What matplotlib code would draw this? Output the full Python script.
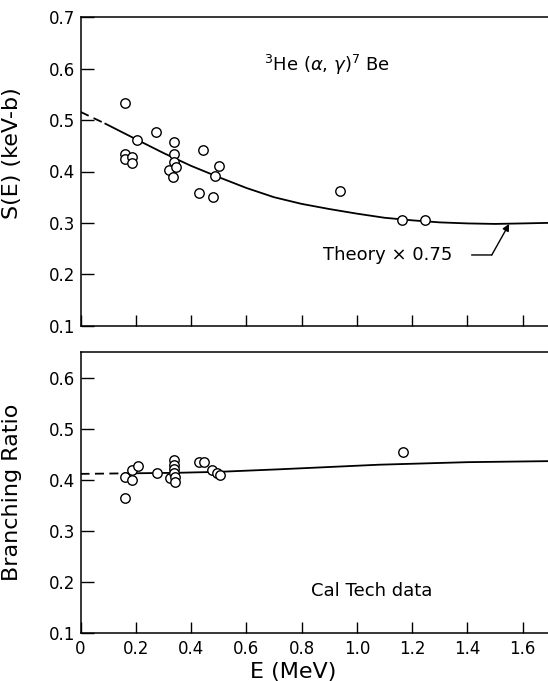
import matplotlib
matplotlib.use('Agg')
import matplotlib.pyplot as plt

# measured S-factor points (MeV, keV-b)
s_E = [0.161, 0.161, 0.161, 0.185, 0.188, 0.206, 0.273, 0.321, 0.336, 0.337, 0.337,
       0.337, 0.344, 0.430, 0.443, 0.478, 0.488, 0.502, 0.939, 1.163, 1.247]
s_S = [0.534, 0.434, 0.424, 0.429, 0.417, 0.461, 0.477, 0.403, 0.389, 0.458, 0.435,
       0.418, 0.408, 0.359, 0.442, 0.350, 0.391, 0.410, 0.363, 0.305, 0.305]

# theory x 0.75 curve (dashed extrapolation + solid part)
th_E_dash = [0.0, 0.09]
th_S_dash = [0.516, 0.493]
th_E = [0.09, 0.20, 0.30, 0.40, 0.50, 0.60, 0.70, 0.80, 0.90, 1.00, 1.10, 1.20,
        1.30, 1.40, 1.50, 1.60, 1.69]
th_S = [0.493, 0.463, 0.436, 0.411, 0.389, 0.368, 0.350, 0.337, 0.327, 0.318, 0.310,
        0.305, 0.301, 0.299, 0.298, 0.299, 0.300]

# branching ratio points
br_E = [0.161, 0.161, 0.187, 0.187, 0.207, 0.276, 0.324, 0.337, 0.337, 0.337, 0.337,
        0.342, 0.342, 0.429, 0.446, 0.475, 0.493, 0.505, 1.166]
br_R = [0.406, 0.365, 0.399, 0.420, 0.428, 0.414, 0.404, 0.440, 0.430, 0.421, 0.413,
        0.406, 0.397, 0.435, 0.435, 0.420, 0.414, 0.409, 0.454]

br_E_dash = [0.0, 0.16]
br_R_dash = [0.412, 0.413]
br_curve_E = [0.16, 0.34, 0.50, 0.72, 1.08, 1.40, 1.69]
br_curve_R = [0.413, 0.414, 0.416, 0.421, 0.430, 0.435, 0.437]

x_ticks = [0, 0.2, 0.4, 0.6, 0.8, 1.0, 1.2, 1.4, 1.6]
x_labels = ['0', '0.2', '0.4', '0.6', '0.8', '1.0', '1.2', '1.4', '1.6']
s_ticks = [0.1, 0.2, 0.3, 0.4, 0.5, 0.6, 0.7]
br_ticks = [0.1, 0.2, 0.3, 0.4, 0.5, 0.6]

plt.rcParams['font.family'] = 'DejaVu Sans'

W, H = 548, 681
fig = plt.figure(figsize=(W / 100, H / 100), dpi=100)
left = 80.5 / W
width = (W - 80.5) / W
ax1 = fig.add_axes([left, 1 - 325.7 / H, width, (325.7 - 17.3) / H])
ax2 = fig.add_axes([left, 1 - 632.7 / H, width, (632.7 - 351.7) / H])

marker_kw = dict(marker='o', linestyle='none', markersize=6.8, markerfacecolor='white',
                 markeredgecolor='black', markeredgewidth=1.0, zorder=3)

for ax in (ax1, ax2):
    ax.set_xlim(0, (W - 80.5) / 276.4)
    ax.spines['right'].set_visible(False)
    for sp in ('left', 'bottom', 'top'):
        ax.spines[sp].set_linewidth(1.1)
    ax.set_xticks(x_ticks)
    ax.tick_params(axis='x', direction='in', length=8, width=1, labelsize=12, pad=5)
    ax.tick_params(axis='y', direction='in', length=9.5, width=1, labelsize=12, pad=4)

# top panel
ax1.plot(th_E_dash, th_S_dash, color='black', lw=1.3, linestyle=(0, (5, 3)))
ax1.plot(th_E, th_S, color='black', lw=1.3)
ax1.plot(s_E, s_S, **marker_kw)
ax1.set_ylim(0.1, 0.7)
ax1.set_yticks(s_ticks)
ax1.set_yticklabels([f'{t:.1f}' for t in s_ticks])
ax1.set_xticklabels([])
ax1.set_ylabel('S(E) (keV-b)', fontsize=16)
ax1.yaxis.set_label_coords(-0.125, 0.56)
ax1.text(0.892, 0.607, r'$^3$He ($\alpha$, $\gamma$)$^7$ Be', fontsize=13,
         ha='center', va='center')
ax1.text(0.877, 0.2376, 'Theory × 0.75', fontsize=13, ha='left', va='center')
# leader: short horizontal stroke, then slanted arrow up to the curve
ax1.annotate('', xy=(1.488, 0.2376), xytext=(1.415, 0.2376),
             arrowprops=dict(arrowstyle='-', color='black', lw=1.0,
                             shrinkA=0, shrinkB=0))
ax1.annotate('', xy=(1.551, 0.298), xytext=(1.488, 0.2376),
             arrowprops=dict(arrowstyle='-|>', color='black', lw=1.0,
                             mutation_scale=10, shrinkA=0, shrinkB=0))

# bottom panel
ax2.plot(br_E_dash, br_R_dash, color='black', lw=1.3, linestyle=(0, (5, 3)))
ax2.plot(br_curve_E, br_curve_R, color='black', lw=1.3)
ax2.plot(br_E, br_R, **marker_kw)
ax2.set_ylim(0.1, 0.652)
ax2.set_yticks(br_ticks)
ax2.set_yticklabels([f'{t:.1f}' for t in br_ticks])
ax2.set_xticklabels(x_labels)
ax2.set_ylabel('Branching Ratio', fontsize=16)
ax2.yaxis.set_label_coords(-0.125, 0.5)
ax2.set_xlabel('E (MeV)', fontsize=16)
ax2.xaxis.set_label_coords(0.455, -0.105)
ax2.text(1.055, 0.182, 'Cal Tech data', fontsize=13, ha='center', va='center')

plt.savefig('out.png', dpi=100)
